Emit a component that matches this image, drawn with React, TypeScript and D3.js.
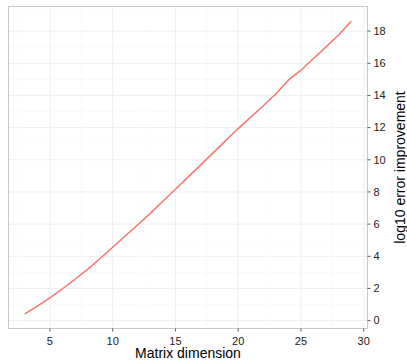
import React from "react";
import * as d3 from "d3";

const dims = [3, 4, 5, 6, 7, 8, 9, 10, 11, 12, 13, 14, 15, 16, 17, 18, 19, 20, 21, 22, 23, 24, 25, 26, 27, 28, 29];
const improvement = [0.42, 0.9, 1.42, 1.98, 2.57, 3.19, 3.86, 4.56, 5.26, 5.96, 6.67, 7.42, 8.17, 8.92, 9.67, 10.43, 11.19, 11.94, 12.65, 13.36, 14.11, 14.95, 15.57, 16.3, 17.02, 17.76, 18.62];
const xTicks = [5, 10, 15, 20, 25, 30];
const xMinor = [2.5, 7.5, 12.5, 17.5, 22.5, 27.5];
const yTicks = [0, 2, 4, 6, 8, 10, 12, 14, 16, 18];
const yMinor = [1, 3, 5, 7, 9, 11, 13, 15, 17, 19];

const W = 407;
const H = 360;
const L = 8.5, R = 367.5, T = 6.5, B = 328.5;

export default function App() {
  const x = d3.scaleLinear().domain([1.7, 30.3]).range([L, R]);
  const y = d3.scaleLinear().domain([-0.49, 19.53]).range([B, T]);
  const pts = dims.map((d, i) => [d, improvement[i]] as [number, number]);
  const line = d3.line<[number, number]>().x(d => x(d[0])).y(d => y(d[1]))(pts) || "";
  const font = "'Liberation Sans', Arial, Helvetica, sans-serif";
  return (
    <svg width={W} height={H} style={{ position: "absolute", left: 0, top: 0 }} fontFamily={font}>
      <rect x={0} y={0} width={W} height={H} fill="#ffffff" />
      <rect x={L} y={T} width={R - L} height={B - T} fill="#ffffff" />
      {xMinor.map(v => (
        <line key={"xm" + v} x1={x(v)} x2={x(v)} y1={T} y2={B} stroke="#f7f7f7" strokeWidth={0.6} />
      ))}
      {yMinor.map(v => (
        <line key={"ym" + v} x1={L} x2={R} y1={y(v)} y2={y(v)} stroke="#f7f7f7" strokeWidth={0.6} />
      ))}
      {xTicks.map(v => (
        <line key={"xg" + v} x1={x(v)} x2={x(v)} y1={T} y2={B} stroke="#efefef" strokeWidth={1} />
      ))}
      {yTicks.map(v => (
        <line key={"yg" + v} x1={L} x2={R} y1={y(v)} y2={y(v)} stroke="#efefef" strokeWidth={1} />
      ))}
      <path d={line} fill="none" stroke="#F8766D" strokeWidth={1.5} strokeLinejoin="round" />
      <rect x={L} y={T} width={R - L} height={B - T} fill="none" stroke="#c8c8c8" strokeWidth={1} />
      {xTicks.map(v => (
        <g key={"xt" + v}>
          <line x1={x(v)} x2={x(v)} y1={B} y2={B + 3} stroke="#333333" strokeWidth={0.8} />
          <text x={x(v)} y={B + 16} textAnchor="middle" fontSize={11} fill="#222222">{v}</text>
        </g>
      ))}
      {yTicks.map(v => (
        <g key={"yt" + v}>
          <line x1={R} x2={R + 3} y1={y(v)} y2={y(v)} stroke="#333333" strokeWidth={0.8} />
          <text x={R + 6} y={y(v)} dy="0.35em" textAnchor="start" fontSize={11} fill="#222222">{v}</text>
        </g>
      ))}
      <text x={(L + R) / 2} y={H - 2} textAnchor="middle" fontSize={14} fill="#000000">Matrix dimension</text>
      <text transform={`translate(${W - 2},${(T + B) / 2}) rotate(-90)`} textAnchor="middle" fontSize={14} fill="#000000">log10 error improvement</text>
    </svg>
  );
}
